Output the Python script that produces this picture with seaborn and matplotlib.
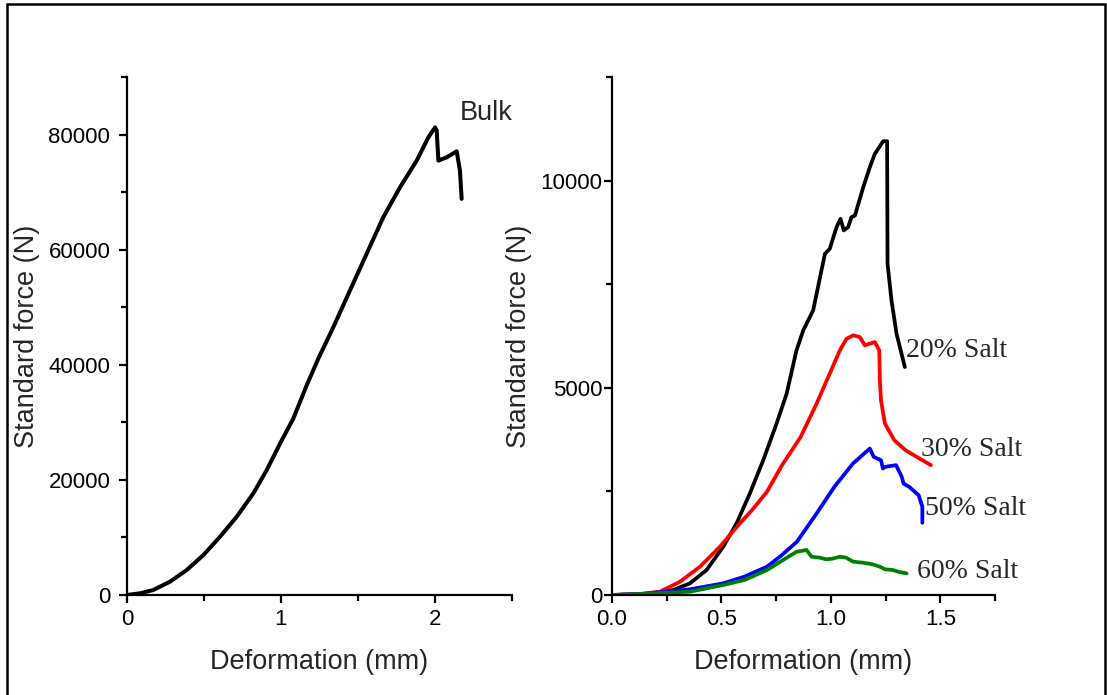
import numpy as np
import pandas as pd
import matplotlib
matplotlib.use("Agg")
import matplotlib.pyplot as plt
from matplotlib.patches import Rectangle
from matplotlib.ticker import MultipleLocator, FormatStrFormatter
import seaborn as sns

# Bulk specimen: force–deformation curve
bulk_def = [0.0, 0.084, 0.171, 0.279, 0.388, 0.496, 0.604, 0.712, 0.820, 0.907,
            0.994, 1.080, 1.167, 1.242, 1.340, 1.448, 1.556, 1.664, 1.773, 1.881,
            1.957, 2.000, 2.011, 2.022, 2.076, 2.141, 2.162, 2.173]
bulk_force = [0, 290, 870, 2310, 4340, 6940, 10120, 13590, 17640, 21690,
              26320, 30660, 36440, 41060, 46550, 52920, 59280, 65630, 70840, 75470,
              79520, 81250, 80680, 75470, 76050, 77090, 73740, 68830]

# Salt-containing specimens
salt20_def = [0.0, 0.15, 0.280, 0.356, 0.432, 0.508, 0.569, 0.630, 0.691, 0.752,
              0.798, 0.843, 0.874, 0.919, 0.973, 0.995, 1.026, 1.044, 1.059, 1.079,
              1.094, 1.110, 1.148, 1.178, 1.201, 1.239, 1.257, 1.259, 1.277, 1.300,
              1.338]
salt20_force = [0, 20, 120, 281, 602, 1164, 1727, 2451, 3253, 4137,
                4860, 5905, 6387, 6868, 8235, 8355, 8876, 9078, 8797, 8876,
                9117, 9158, 9840, 10322, 10645, 10950, 10950, 7994, 7110, 6307,
                5502]

salt30_def = [0.0, 0.12, 0.219, 0.311, 0.402, 0.493, 0.584, 0.640, 0.708, 0.777,
              0.862, 0.935, 0.995, 1.041, 1.072, 1.102, 1.132, 1.155, 1.201, 1.221,
              1.224, 1.229, 1.247, 1.290, 1.341, 1.392, 1.457]
salt30_force = [0, 20, 80, 321, 683, 1164, 1727, 2050, 2490, 3133,
                3815, 4620, 5343, 5905, 6186, 6266, 6225, 6025, 6105, 5905,
                5181, 4700, 4138, 3735, 3494, 3333, 3133]

salt50_def = [0.0, 0.15, 0.356, 0.508, 0.605, 0.708, 0.767, 0.845, 0.935, 1.016,
              1.101, 1.178, 1.196, 1.229, 1.238, 1.247, 1.298, 1.324, 1.332, 1.358,
              1.401, 1.418, 1.418]
salt50_force = [0, 30, 137, 281, 442, 683, 923, 1285, 1968, 2610,
                3173, 3534, 3333, 3253, 3052, 3092, 3133, 2851, 2690, 2610,
                2410, 2128, 1743]

salt60_def = [0.0, 0.15, 0.356, 0.508, 0.605, 0.708, 0.794, 0.843, 0.889, 0.912,
              0.950, 0.980, 1.010, 1.041, 1.070, 1.102, 1.148, 1.190, 1.224, 1.247,
              1.284, 1.307, 1.346]
salt60_force = [0, 30, 80, 241, 362, 603, 884, 1044, 1085, 924,
                900, 860, 880, 924, 900, 803, 779, 740, 683, 620,
                603, 562, 522]

salt_labels = ["20% Salt", "30% Salt", "50% Salt", "60% Salt"]
salt_colors = ["black", "red", "blue", "green"]

bulk_df = pd.DataFrame({"Deformation": bulk_def, "Force": bulk_force})
salt_df = pd.concat([
    pd.DataFrame({"Deformation": d, "Force": f, "Sample": lab})
    for d, f, lab in zip([salt20_def, salt30_def, salt50_def, salt60_def],
                         [salt20_force, salt30_force, salt50_force, salt60_force],
                         salt_labels)
], ignore_index=True)

sns.set_style("ticks")
plt.rcParams["font.family"] = ["Liberation Sans", "DejaVu Sans"]

W, H = 1107, 695
fig = plt.figure(figsize=(W / 100, H / 100), dpi=100)
ax1 = fig.add_axes([127 / W, 1 - 595 / H, (512 - 127) / W, (595 - 77) / H])
ax2 = fig.add_axes([612 / W, 1 - 595 / H, (995 - 612) / W, (595 - 77) / H])

line_kw = dict(sort=False, estimator=None, solid_joinstyle="round",
               solid_capstyle="round")
sns.lineplot(data=bulk_df, x="Deformation", y="Force", ax=ax1, color="black",
             linewidth=2.9, **line_kw)
sns.lineplot(data=salt_df, x="Deformation", y="Force", hue="Sample",
             palette=dict(zip(salt_labels, salt_colors)), ax=ax2,
             linewidth=2.7, legend=False, **line_kw)

ax1.set_xlim(0, 2.5)
ax1.set_ylim(0, 90000)
ax1.xaxis.set_major_locator(MultipleLocator(1))
ax1.xaxis.set_minor_locator(MultipleLocator(0.5))
ax1.yaxis.set_major_locator(MultipleLocator(20000))
ax1.yaxis.set_minor_locator(MultipleLocator(10000))

ax2.set_xlim(0, 1.75)
ax2.set_ylim(0, 12500)
ax2.xaxis.set_major_locator(MultipleLocator(0.5))
ax2.xaxis.set_minor_locator(MultipleLocator(0.25))
ax2.yaxis.set_major_locator(MultipleLocator(5000))
ax2.yaxis.set_minor_locator(MultipleLocator(2500))
ax2.xaxis.set_major_formatter(FormatStrFormatter("%.1f"))

for ax in (ax1, ax2):
    sns.despine(ax=ax)
    for s in ("left", "bottom"):
        ax.spines[s].set_linewidth(1.6)
        ax.spines[s].set_color("black")
    ax.tick_params(which="major", direction="out", length=6, width=1.6,
                   labelsize=16, colors="black", pad=4)
    ax.tick_params(which="minor", direction="out", length=4, width=1.6,
                   colors="black")
    ax.set_xlabel("Deformation (mm)", fontsize=19.5, labelpad=14)
    ax.set_ylabel("Standard force (N)", fontsize=19.5, labelpad=6)

ax1.tick_params(axis="y", pad=6)
ax2.tick_params(axis="y", pad=1)

ax1.text(2.162, 83800, "Bulk", fontsize=19.5, ha="left", va="center")

label_pos = {"20% Salt": (1.342, 5904), "30% Salt": (1.411, 3519),
             "50% Salt": (1.429, 2097), "60% Salt": (1.393, 578)}
for lab in salt_labels:
    x, y = label_pos[lab]
    ax2.text(x, y, lab, fontsize=20, ha="left", va="center",
             family=["Liberation Serif", "DejaVu Serif"])

# Frame around the whole figure
fig.patches.append(Rectangle((7 / W, -0.02), (1105 - 7) / W, 1 - 4 / H + 0.02,
                             transform=fig.transFigure, fill=False,
                             edgecolor="black", linewidth=1.8, clip_on=False))

fig.savefig("out.png", dpi=100)
